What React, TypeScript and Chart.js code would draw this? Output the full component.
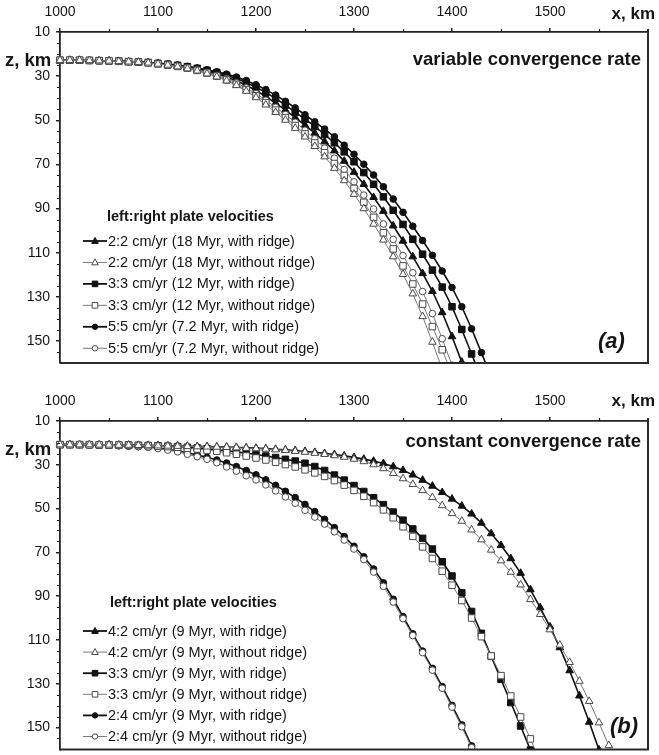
import { useEffect, useRef } from 'react';
import { Chart, registerables } from 'chart.js';

Chart.register(...registerables);

const FONT = "'Liberation Sans', Arial, Helvetica, sans-serif";
const INK = '#151515';

// Horizontal positions of the sampled slab-surface points, km
const X_KM = [
  1000, 1010, 1020, 1030, 1040, 1050, 1060, 1070, 1080, 1090,
  1100, 1110, 1120, 1130, 1140, 1150, 1160, 1170, 1180, 1190,
  1200, 1210, 1220, 1230, 1240, 1250, 1260, 1270, 1280, 1290,
  1300, 1310, 1320, 1330, 1340, 1350, 1360, 1370, 1380, 1390,
  1400, 1410, 1420, 1430, 1440, 1450, 1460, 1470, 1480, 1490,
  1500, 1510, 1520, 1530, 1540, 1550, 1560, 1570,
];

const X_TICKS = [1000, 1100, 1200, 1300, 1400, 1500];
const Z_TICKS = [10, 30, 50, 70, 90, 110, 130, 150];

// (a) variable convergence rate: depth z (km) at each X_KM entry
const VAR_22_RIDGE = [
  22.8, 22.8, 22.8, 22.9, 23.0, 23.1, 23.3, 23.5, 23.7, 23.9,
  24.3, 24.8, 25.4, 26.0, 26.8, 27.9, 29.0, 30.4, 32.1, 34.1,
  36.5, 39.2, 42.2, 45.4, 48.8, 52.2, 55.8, 59.7, 63.8, 68.5,
  73.5, 79.0, 84.9, 91.2, 97.8, 104.7, 111.8, 119.4, 127.5, 137.1,
  148.0, 159.6, 171.0,
];
const VAR_22_FLAT = [
  22.8, 22.8, 22.8, 22.9, 23.0, 23.1, 23.3, 23.5, 23.7, 24.0,
  24.5, 25.0, 25.7, 26.6, 27.6, 28.9, 30.3, 32.1, 34.2, 36.8,
  39.7, 43.0, 46.4, 49.9, 53.6, 57.5, 61.8, 66.5, 71.7, 77.3,
  83.5, 90.0, 97.0, 104.2, 111.8, 119.8, 128.6, 138.9, 150.5, 162.9,
];
const VAR_33_RIDGE = [
  22.8, 22.8, 22.8, 22.9, 23.0, 23.1, 23.2, 23.4, 23.6, 23.8,
  24.2, 24.6, 25.1, 25.7, 26.5, 27.4, 28.4, 29.7, 31.1, 32.9,
  35.0, 37.4, 40.1, 43.1, 46.3, 49.5, 52.8, 56.4, 60.2, 64.3,
  68.8, 73.7, 79.0, 84.7, 90.8, 97.2, 103.9, 110.7, 117.9, 125.6,
  134.5, 144.8, 155.9, 167.3,
];
const VAR_33_FLAT = [
  22.8, 22.8, 22.8, 22.9, 23.0, 23.1, 23.3, 23.5, 23.7, 24.0,
  24.5, 25.0, 25.6, 26.4, 27.4, 28.6, 30.0, 31.7, 33.7, 36.1,
  38.9, 42.0, 45.4, 48.8, 52.4, 56.2, 60.3, 64.7, 69.6, 75.0,
  80.9, 87.2, 94.0, 101.0, 108.3, 116.0, 124.2, 133.3, 143.5, 154.0,
  165.0,
];
const VAR_55_RIDGE = [
  22.8, 22.8, 22.8, 22.9, 23.0, 23.1, 23.2, 23.4, 23.6, 23.8,
  24.1, 24.5, 25.0, 25.6, 26.3, 27.1, 28.0, 29.1, 30.4, 32.0,
  33.9, 36.1, 38.6, 41.4, 44.4, 47.5, 50.7, 54.0, 57.5, 61.3,
  65.4, 69.9, 74.8, 80.1, 85.7, 91.7, 98.0, 104.5, 111.2, 118.3,
  125.8, 134.5, 144.5, 155.3, 166.5,
];
const VAR_55_FLAT = [
  22.8, 22.8, 22.8, 22.9, 23.0, 23.1, 23.3, 23.5, 23.7, 24.0,
  24.4, 24.9, 25.5, 26.2, 27.1, 28.3, 29.6, 31.1, 33.0, 35.3,
  37.9, 40.9, 44.1, 47.4, 50.9, 54.5, 58.4, 62.6, 67.2, 72.3,
  77.9, 83.9, 90.2, 97.0, 104.0, 111.3, 119.1, 127.6, 137.6, 149.0,
  161.0, 173.0,
];

// (b) constant convergence rate
const CONST_42_RIDGE = [
  20.8, 20.8, 20.8, 20.8, 20.9, 20.9, 21.0, 21.0, 21.1, 21.1,
  21.2, 21.3, 21.4, 21.5, 21.6, 21.7, 21.8, 21.9, 22.0, 22.2,
  22.4, 22.6, 22.9, 23.2, 23.5, 23.9, 24.3, 24.8, 25.3, 25.9,
  26.6, 27.4, 28.3, 29.4, 30.8, 32.5, 34.6, 37.0, 39.7, 42.6,
  45.6, 48.8, 52.4, 56.6, 61.4, 66.8, 72.8, 79.5, 87.0, 95.2,
  104.0, 113.5, 124.0, 135.5, 147.5, 160.2, 173.0,
];
const CONST_42_FLAT = [
  20.8, 20.8, 20.8, 20.8, 20.9, 20.9, 21.0, 21.0, 21.1, 21.2,
  21.3, 21.4, 21.5, 21.6, 21.7, 21.8, 21.9, 22.0, 22.2, 22.4,
  22.6, 22.8, 23.1, 23.4, 23.8, 24.2, 24.7, 25.2, 25.8, 26.5,
  27.4, 28.5, 29.9, 31.7, 33.9, 36.3, 38.9, 41.7, 44.9, 48.6,
  52.2, 55.7, 59.7, 64.2, 68.9, 73.8, 79.0, 84.8, 91.5, 98.3,
  105.3, 112.3, 120.2, 128.8, 138.0, 147.8, 158.2, 169.0,
];
const CONST_33_RIDGE = [
  20.8, 20.8, 20.8, 20.8, 20.9, 20.9, 21.0, 21.0, 21.1, 21.2,
  21.3, 21.5, 21.7, 22.0, 22.3, 22.7, 23.1, 23.6, 24.1, 24.7,
  25.3, 26.0, 26.7, 27.5, 28.3, 29.3, 30.8, 32.6, 34.7, 37.0,
  39.5, 42.2, 45.1, 48.2, 51.6, 55.3, 59.3, 63.6, 68.5, 74.3,
  80.8, 88.5, 97.0, 107.0, 117.5, 128.0, 138.6, 149.3, 160.3, 171.8,
];
const CONST_33_FLAT = [
  20.8, 20.8, 20.8, 20.9, 20.9, 21.0, 21.0, 21.1, 21.2, 21.3,
  21.5, 21.7, 22.0, 22.4, 22.8, 23.3, 23.8, 24.5, 25.2, 26.0,
  26.9, 27.8, 28.8, 29.9, 31.0, 32.3, 33.7, 35.3, 37.2, 39.3,
  41.7, 44.4, 47.3, 50.6, 54.2, 58.3, 62.7, 67.5, 72.8, 78.6,
  85.0, 92.0, 100.0, 108.5, 117.3, 126.3, 135.6, 145.2, 155.2, 165.5,
];
const CONST_24_RIDGE = [
  20.8, 20.8, 20.8, 20.9, 21.0, 21.1, 21.3, 21.5, 21.7, 21.9,
  22.3, 22.9, 23.6, 24.5, 25.5, 26.6, 27.8, 29.2, 30.8, 32.6,
  34.6, 36.9, 39.4, 42.1, 45.0, 48.1, 51.4, 54.9, 58.7, 62.8,
  67.2, 72.0, 77.6, 83.9, 91.4, 99.3, 107.2, 115.1, 123.0, 131.3,
  139.9, 148.8, 158.4, 168.5,
];
const CONST_24_FLAT = [
  20.8, 20.8, 20.8, 20.9, 21.0, 21.1, 21.3, 21.5, 21.7, 22.0,
  22.6, 23.3, 24.1, 25.2, 26.3, 27.5, 29.1, 31.0, 32.9, 35.0,
  36.9, 39.2, 41.9, 44.7, 47.6, 50.8, 53.9, 57.1, 60.6, 64.4,
  68.5, 73.3, 79.0, 85.5, 92.7, 100.3, 108.0, 115.8, 123.8, 132.1,
  140.7, 149.7, 159.2, 169.3,
];

type Marker = 'triangle' | 'rect' | 'circle';

interface SeriesSpec {
  label: string;
  z: number[];
  marker: Marker;
  ridge: boolean;
}

interface PanelSpec {
  height: number;
  axisTop: number;
  padBottom: number;
  title: string;
  titleY: number;
  tag: string;
  tagX: number;
  tagY: number;
  xLabelY: number;
  zLabelY: number;
  legendTitleX: number;
  legendTitleY: number;
  legendY0: number;
  legendStep: number;
  series: SeriesSpec[];
}

const PANEL_A: PanelSpec = {
  height: 378,
  axisTop: 32,
  padBottom: 15,
  title: 'variable convergence rate',
  titleY: 59.5,
  tag: '(a)',
  tagX: 598,
  tagY: 342,
  xLabelY: 14,
  zLabelY: 61,
  legendTitleX: 107,
  legendTitleY: 217,
  legendY0: 241,
  legendStep: 21.45,
  series: [
    { label: '2:2 cm/yr (18 Myr, with ridge)', z: VAR_22_RIDGE, marker: 'triangle', ridge: true },
    { label: '2:2 cm/yr (18 Myr, without ridge)', z: VAR_22_FLAT, marker: 'triangle', ridge: false },
    { label: '3:3 cm/yr (12 Myr, with ridge)', z: VAR_33_RIDGE, marker: 'rect', ridge: true },
    { label: '3:3 cm/yr (12 Myr, without ridge)', z: VAR_33_FLAT, marker: 'rect', ridge: false },
    { label: '5:5 cm/yr (7.2 Myr, with ridge)', z: VAR_55_RIDGE, marker: 'circle', ridge: true },
    { label: '5:5 cm/yr (7.2 Myr, without ridge)', z: VAR_55_FLAT, marker: 'circle', ridge: false },
  ],
};

const PANEL_B: PanelSpec = {
  height: 377,
  axisTop: 43,
  padBottom: 2,
  title: 'constant convergence rate',
  titleY: 63.5,
  tag: '(b)',
  tagX: 610,
  tagY: 349,
  xLabelY: 23.7,
  zLabelY: 72,
  legendTitleX: 110,
  legendTitleY: 225.3,
  legendY0: 253,
  legendStep: 21.1,
  series: [
    { label: '4:2 cm/yr (9 Myr, with ridge)', z: CONST_42_RIDGE, marker: 'triangle', ridge: true },
    { label: '4:2 cm/yr (9 Myr, without ridge)', z: CONST_42_FLAT, marker: 'triangle', ridge: false },
    { label: '3:3 cm/yr (9 Myr, with ridge)', z: CONST_33_RIDGE, marker: 'rect', ridge: true },
    { label: '3:3 cm/yr (9 Myr, without ridge)', z: CONST_33_FLAT, marker: 'rect', ridge: false },
    { label: '2:4 cm/yr (9 Myr, with ridge)', z: CONST_24_RIDGE, marker: 'circle', ridge: true },
    { label: '2:4 cm/yr (9 Myr, without ridge)', z: CONST_24_FLAT, marker: 'circle', ridge: false },
  ],
};

const RIDGE_LINE = '#111111';
const FLAT_LINE = '#7a7a7a';
const OPEN_EDGE = '#4a4a4a';

const POINT_RADIUS: Record<Marker, number> = { triangle: 4.4, rect: 4.6, circle: 3.3 };

function drawLegendMarker(
  ctx: CanvasRenderingContext2D,
  marker: Marker,
  x: number,
  y: number,
  filled: boolean,
) {
  ctx.beginPath();
  if (marker === 'circle') {
    ctx.arc(x, y, 2.7, 0, Math.PI * 2);
  } else if (marker === 'rect') {
    ctx.rect(x - 2.8, y - 2.8, 5.6, 5.6);
  } else {
    ctx.moveTo(x, y - 3.6);
    ctx.lineTo(x + 3.3, y + 2.4);
    ctx.lineTo(x - 3.3, y + 2.4);
    ctx.closePath();
  }
  ctx.fillStyle = filled ? RIDGE_LINE : '#ffffff';
  ctx.fill();
  ctx.lineWidth = 1;
  ctx.strokeStyle = filled ? RIDGE_LINE : OPEN_EDGE;
  ctx.stroke();
}

function makeDecor(spec: PanelSpec) {
  return {
    id: 'panelDecor',
    afterDatasetsDraw(chart: Chart) {
      const { ctx, chartArea } = chart;
      const { left, top, right, bottom } = chartArea;
      ctx.save();
      // closing frame on the right and bottom
      ctx.strokeStyle = '#2b2b2b';
      ctx.lineWidth = 2;
      ctx.beginPath();
      ctx.moveTo(left, bottom);
      ctx.lineTo(right, bottom);
      ctx.lineTo(right, top - 3);
      ctx.stroke();

      // minor ticks
      const xs = chart.scales.x;
      const ys = chart.scales.y;
      ctx.strokeStyle = '#222';
      ctx.lineWidth = 1.2;
      ctx.beginPath();
      for (let v = 1050; v < 1600; v += 100) {
        const px = Math.round(xs.getPixelForValue(v)) + 0.5;
        ctx.moveTo(px, top);
        ctx.lineTo(px, top - 3);
      }
      for (let v = 15; v < 160; v += 5) {
        if ((v - 10) % 20 === 0) continue;
        const py = Math.round(ys.getPixelForValue(v)) + 0.5;
        ctx.moveTo(left, py);
        ctx.lineTo(left - 3, py);
      }
      ctx.stroke();
      ctx.restore();
    },
    afterDraw(chart: Chart) {
      const { ctx } = chart;
      ctx.save();
      ctx.fillStyle = INK;
      ctx.textBaseline = 'middle';

      // axis titles
      ctx.font = `bold 17px ${FONT}`;
      ctx.textAlign = 'right';
      ctx.fillText('x, km', 655, spec.xLabelY);
      ctx.font = `bold 18.5px ${FONT}`;
      ctx.textAlign = 'left';
      ctx.fillText('z, km', 5, spec.zLabelY);

      // panel title and tag
      ctx.font = `bold 18.5px ${FONT}`;
      ctx.textAlign = 'right';
      ctx.fillText(spec.title, 641, spec.titleY);
      ctx.font = `italic bold 22px ${FONT}`;
      ctx.textAlign = 'left';
      ctx.fillText(spec.tag, spec.tagX, spec.tagY);

      // legend
      ctx.font = `bold 14.5px ${FONT}`;
      ctx.fillText('left:right plate velocities', spec.legendTitleX, spec.legendTitleY);
      ctx.font = `14.5px ${FONT}`;
      spec.series.forEach((s, i) => {
        const y = spec.legendY0 + i * spec.legendStep;
        ctx.beginPath();
        ctx.moveTo(83, y);
        ctx.lineTo(107, y);
        ctx.lineWidth = s.ridge ? 1.8 : 1;
        ctx.strokeStyle = s.ridge ? RIDGE_LINE : FLAT_LINE;
        ctx.stroke();
        drawLegendMarker(ctx, s.marker, 95, y, s.ridge);
        ctx.fillStyle = INK;
        ctx.fillText(s.label, 108, y + 0.5);
      });
      ctx.restore();
    },
  };
}

function Panel({ spec }: { spec: PanelSpec }) {
  const ref = useRef<HTMLCanvasElement>(null);

  useEffect(() => {
    const canvas = ref.current;
    if (!canvas) return;

    const datasets = spec.series.map((s) => ({
      label: s.label,
      data: s.z.map((z, i) => ({ x: X_KM[i], y: z })),
      borderColor: s.ridge ? RIDGE_LINE : FLAT_LINE,
      borderWidth: s.ridge ? 1.6 : 1,
      pointStyle: s.marker,
      pointRadius: POINT_RADIUS[s.marker],
      pointBackgroundColor: s.ridge ? RIDGE_LINE : '#ffffff',
      pointBorderColor: s.ridge ? RIDGE_LINE : OPEN_EDGE,
      pointBorderWidth: 1,
      tension: 0,
      fill: false,
      clip: { left: 12, top: 0, right: 0, bottom: 0 },
      order: s.ridge ? 1 : 0,
    }));

    const chart = new Chart(canvas, {
      type: 'line',
      data: { datasets },
      options: {
        responsive: false,
        animation: false,
        events: [],
        layout: { padding: { left: 0, right: 11, top: 0, bottom: spec.padBottom } },
        plugins: {
          legend: { display: false },
          tooltip: { enabled: false },
        },
        scales: {
          x: {
            type: 'linear',
            position: 'top',
            min: 1000,
            max: 1600,
            afterFit: (scale: any) => {
              scale.height = spec.axisTop;
              scale.paddingLeft = 0;
              scale.paddingRight = 0;
            },
            afterBuildTicks: (scale: any) => {
              scale.ticks = X_TICKS.map((value) => ({ value }));
            },
            ticks: {
              autoSkip: false,
              maxRotation: 0,
              padding: 7,
              color: INK,
              font: { family: FONT, size: 14 },
              callback: (v: any) => String(v),
            },
            grid: {
              drawOnChartArea: false,
              drawTicks: true,
              tickLength: 4,
              color: '#222',
              lineWidth: 1.5,
            },
            border: { display: true, color: '#222', width: 1.8 },
          },
          y: {
            type: 'linear',
            reverse: true,
            min: 10,
            max: 160,
            afterFit: (scale: any) => {
              scale.width = 60;
              scale.paddingTop = 0;
              scale.paddingBottom = 0;
            },
            afterBuildTicks: (scale: any) => {
              scale.ticks = Z_TICKS.map((value) => ({ value }));
            },
            ticks: {
              autoSkip: false,
              padding: 6,
              color: INK,
              font: { family: FONT, size: 14 },
              callback: (v: any) => String(v),
            },
            grid: {
              drawOnChartArea: false,
              drawTicks: true,
              tickLength: 4,
              color: '#222',
              lineWidth: 1.5,
            },
            border: { display: true, color: '#222', width: 1.8 },
          },
        },
      },
      plugins: [makeDecor(spec)],
    } as any);

    return () => chart.destroy();
  }, [spec]);

  return (
    <canvas
      ref={ref}
      width={659}
      height={spec.height}
      style={{ display: 'block', width: 659, height: spec.height }}
    />
  );
}

export default function App() {
  return (
    <div
      style={{
        position: 'absolute',
        left: 0,
        top: 0,
        width: 659,
        height: 755,
        background: '#ffffff',
      }}
    >
      <Panel spec={PANEL_A} />
      <Panel spec={PANEL_B} />
    </div>
  );
}
